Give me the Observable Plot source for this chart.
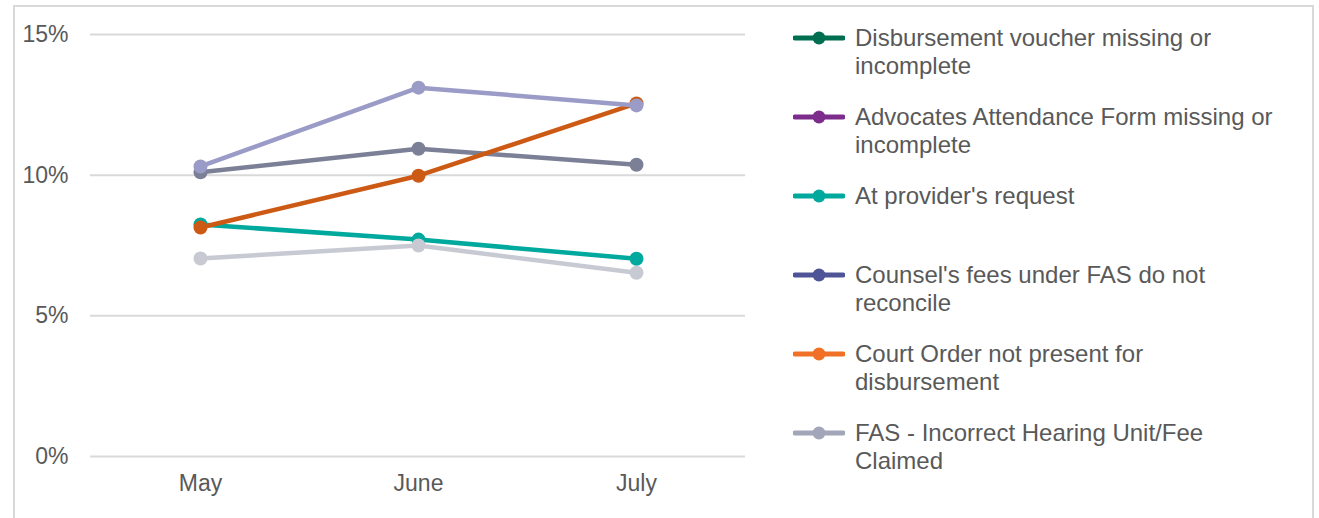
<!DOCTYPE html>
<html>
<head>
<meta charset="utf-8">
<script src="https://cdn.jsdelivr.net/npm/d3@7"></script>
<script src="https://cdn.jsdelivr.net/npm/@observablehq/plot@0.6"></script>
<style>
  html, body { margin: 0; padding: 0; background: #fff; overflow: hidden; }
  #wrap { position: relative; width: 1319px; height: 518px; overflow: hidden; font-family: "Liberation Sans", Arial, sans-serif; }
  #frame { position: absolute; left: 13px; top: 5px; width: 1301px; height: 560px; border: 2px solid #d9d9d9; box-sizing: border-box; }
  #chart { position: absolute; left: 0; top: 0; }
  #legend { position: absolute; left: 793px; top: 24px; }
  .item { display: flex; align-items: flex-start; height: 79px; }
  .item svg { flex: none; margin-right: 10px; }
  .item .lbl { font-size: 24px; line-height: 28px; color: #595959; white-space: pre-line; }
</style>
</head>
<body>
<div id="wrap">
  <div id="frame"></div>
  <div id="chart"></div>
  <div id="legend"></div>
</div>
<script>
// ---- data ----
const months = ["May", "June", "July"];
const seriesNames = [
  "Counsel's fees under FAS do not reconcile",
  "At provider's request",
  "Court Order not present for disbursement",
  "Advocates Attendance Form missing or incomplete",
  "FAS - Incorrect Hearing Unit/Fee Claimed"
];
const slateValues    = [0.1010, 0.1094, 0.1037];
const tealValues     = [0.0825, 0.0771, 0.0703];
const orangeValues   = [0.0814, 0.0998, 0.1255];
const lavenderValues = [0.1031, 0.1311, 0.1248];
const lightValues    = [0.0704, 0.0750, 0.0653];
const lineColors = ["#7b8096", "#00a99d", "#cc5a14", "#9b9bc8", "#c8cad3"];
const yTicks = [0, 0.05, 0.10, 0.15];

const legendLabels = [
  "Disbursement voucher missing or\nincomplete",
  "Advocates Attendance Form missing or\nincomplete",
  "At provider's request",
  "Counsel's fees under FAS do not\nreconcile",
  "Court Order not present for\ndisbursement",
  "FAS - Incorrect Hearing Unit/Fee\nClaimed"
];
const legendColors = ["#006f51", "#7d2c8c", "#00a99d", "#4e5495", "#f07025", "#a2a6b8"];

// ---- build table ----
const allValues = [slateValues, tealValues, orangeValues, lavenderValues, lightValues];
const rows = [];
seriesNames.forEach((name, i) => {
  months.forEach((m, j) => rows.push({series: name, month: m, value: allValues[i][j]}));
});

const chart = Plot.plot({
  width: 760,
  height: 518,
  marginLeft: 90,
  marginRight: 15,
  marginTop: 34,
  marginBottom: 62,
  style: { fontFamily: "'Liberation Sans', Arial, sans-serif", fontSize: "23px", color: "#595959", background: "transparent" },
  x: { type: "point", domain: months, padding: 0.5 },
  y: { domain: [0, 0.15] },
  color: { domain: seriesNames, range: lineColors },
  marks: [
    Plot.gridY(yTicks, { stroke: "#d9d9d9", strokeOpacity: 1, strokeWidth: 2 }),
    Plot.axisY(yTicks, { tickSize: 0, tickPadding: 22, tickFormat: d3.format(".0%"), label: null, fill: "#595959" }),
    Plot.axisX({ tickSize: 0, tickPadding: 18, label: null, fill: "#595959" }),
    ...seriesNames.map(name => Plot.line(rows.filter(d => d.series === name), {
      x: "month", y: "value", stroke: "series", strokeWidth: 4.5, curve: "linear"
    })),
    ...seriesNames.map(name => Plot.dot(rows.filter(d => d.series === name), {
      x: "month", y: "value", fill: "series", r: 7
    }))
  ]
});
document.getElementById("chart").appendChild(chart);
// interleave line+dot per series for proper stacking
(function reorder() {
  const svg = chart;
  const gs = Array.from(svg.querySelectorAll(":scope > g[aria-label='line'], :scope > g[aria-label='dot']"));
  const n = seriesNames.length;
  const lines = gs.slice(0, n), dots = gs.slice(n, 2 * n);
  for (let i = 0; i < n; i++) { svg.appendChild(lines[i]); svg.appendChild(dots[i]); }
})();

// ---- legend ----
const legend = d3.select("#legend");
legendLabels.forEach((lbl, i) => {
  const item = legend.append("div").attr("class", "item");
  const s = item.append("svg").attr("width", 52).attr("height", 28);
  s.append("line").attr("x1", 2).attr("x2", 50).attr("y1", 14).attr("y2", 14)
    .attr("stroke", legendColors[i]).attr("stroke-width", 5).attr("stroke-linecap", "round");
  s.append("circle").attr("cx", 26).attr("cy", 14).attr("r", 6.5).attr("fill", legendColors[i]);
  item.append("div").attr("class", "lbl").text(lbl);
});
</script>
</body>
</html>
